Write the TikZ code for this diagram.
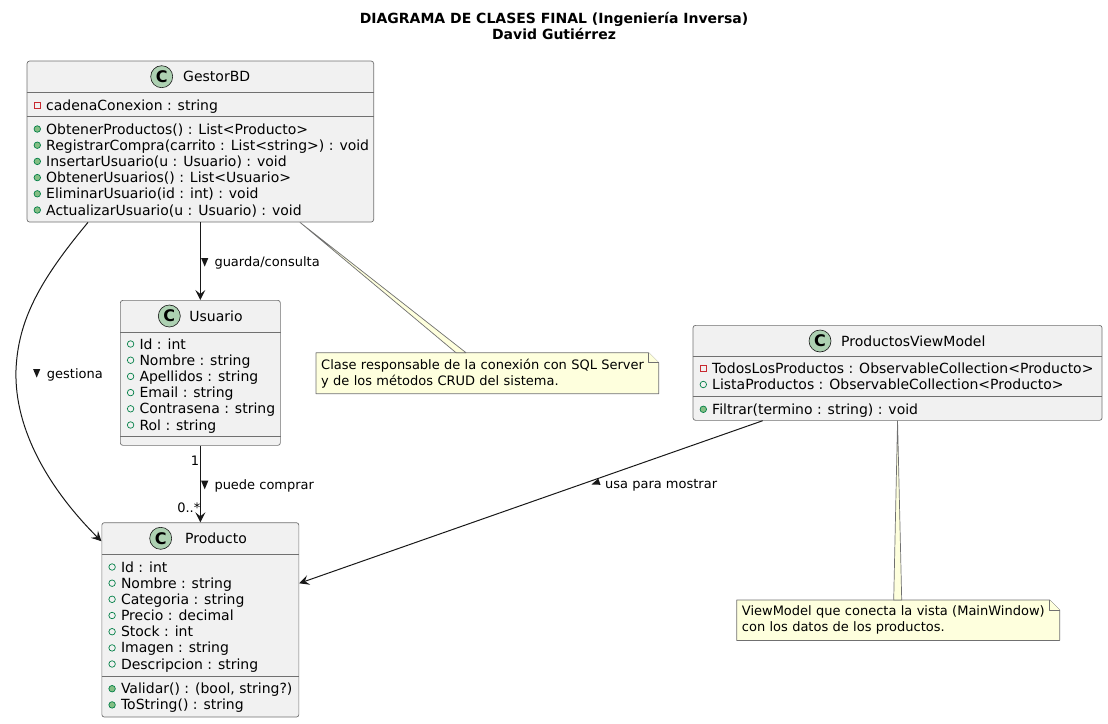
\documentclass[tikz,border=0pt]{standalone}
\usepackage{fontspec}
\setmainfont{DejaVu Sans}
\usetikzlibrary{arrows.meta,backgrounds}
\definecolor{classfill}{HTML}{F1F1F1}
\definecolor{lineblk}{HTML}{181818}
\definecolor{boxline}{HTML}{707070}
\definecolor{cfill}{HTML}{ADD1B2}
\definecolor{notefill}{HTML}{FEFFDD}
\definecolor{privred}{HTML}{C82930}
\definecolor{pubgreen}{HTML}{038048}
\definecolor{pubfill}{HTML}{84BE84}
\newcommand{\umlrow}[5]{%
  \node[#4] (#1i) at (#2+10.6,#3) {};
  \node[rowtext] (#1) at (#2+19.3,#3+5) {#5};}
\newcommand{\downtri}[3]{%
  \fill[lineblk] (#2-3.6,#3-4.3) -- (#2+3.6,#3-4.3) -- (#2,#3+4.3) -- cycle;}
\begin{document}
\begin{tikzpicture}[x=1pt,y=-1pt,
  classbox/.style={draw=boxline, fill=classfill, line width=0.7pt, rounded corners=2.5pt, anchor=north west, inner sep=0},
  sepline/.style={draw=boxline, line width=0.7pt},
  cicon/.style={circle, draw=lineblk, fill=cfill, line width=0.6pt, minimum size=22pt, inner sep=0, font=\bfseries\fontsize{16}{16}\selectfont},
  ctitle/.style={anchor=base, inner sep=0, font=\fontsize{14}{16}\selectfont},
  rowtext/.style={anchor=base west, inner sep=0, font=\fontsize{14}{16}\selectfont},
  privf/.style={rectangle, draw=privred, line width=0.7pt, minimum size=6pt, inner sep=0},
  pubf/.style={circle, draw=pubgreen, line width=0.7pt, minimum size=6.5pt, inner sep=0},
  pubm/.style={circle, draw=pubgreen, fill=pubfill, line width=0.7pt, minimum size=6.5pt, inner sep=0},
  arr/.style={draw=lineblk, line width=1pt, -{Stealth[length=10pt,width=10pt,inset=4pt]}},
  lbl/.style={anchor=base west, inner sep=0, font=\fontsize{13}{15}\selectfont},
  notetext/.style={anchor=north west, align=left, inner xsep=5pt, inner ysep=0, font=\fontsize{13}{16}\selectfont},
  notebox/.style={draw=boxline, fill=notefill, line width=0.7pt, line join=round},
  titletext/.style={align=center, inner sep=0, font=\bfseries\fontsize{14}{15.7}\selectfont}]
\useasboundingbox (0,0) rectangle (1108,723);

% Title
\node[titletext] (title) at (554,26.2) {DIAGRAMA DE CLASES FINAL (Ingeniería Inversa)\\David Gutiérrez};

% GestorBD
\node[classbox, minimum width=346.6pt, minimum height=161pt] (gestor) at (26.7,60.7) {};
\node[cicon] (gestorC) at (161.7,76.7) {C};
\node[ctitle] (gestorT) at (216.7,81.7) {GestorBD};
\draw[sepline] ([yshift=-32pt]gestor.north west) -- ([yshift=-32pt]gestor.north east);
\draw[sepline] ([yshift=-56pt]gestor.north west) -- ([yshift=-56pt]gestor.north east);
\umlrow{g1}{26.7}{105.7}{privf}{cadenaConexion : string}
\umlrow{g2}{26.7}{129}{pubm}{ObtenerProductos() : List<Producto>}
\umlrow{g3}{26.7}{145.2}{pubm}{RegistrarCompra(carrito : List<string>) : void}
\umlrow{g4}{26.7}{161.4}{pubm}{InsertarUsuario(u : Usuario) : void}
\umlrow{g5}{26.7}{177.6}{pubm}{ObtenerUsuarios() : List<Usuario>}
\umlrow{g6}{26.7}{193.8}{pubm}{EliminarUsuario(id : int) : void}
\umlrow{g7}{26.7}{210}{pubm}{ActualizarUsuario(u : Usuario) : void}

% Usuario
\node[classbox, minimum width=160pt, minimum height=145pt] (usuario) at (120,300) {};
\node[cicon] (usuarioC) at (169.3,316) {C};
\node[ctitle] (usuarioT) at (216,321) {Usuario};
\draw[sepline] ([yshift=-32pt]usuario.north west) -- ([yshift=-32pt]usuario.north east);
\draw[sepline] ([yshift=-136.7pt]usuario.north west) -- ([yshift=-136.7pt]usuario.north east);
\umlrow{u1}{120}{344}{pubf}{Id : int}
\umlrow{u2}{120}{360.2}{pubf}{Nombre : string}
\umlrow{u3}{120}{376.4}{pubf}{Apellidos : string}
\umlrow{u4}{120}{392.6}{pubf}{Email : string}
\umlrow{u5}{120}{408.8}{pubf}{Contrasena : string}
\umlrow{u6}{120}{425}{pubf}{Rol : string}

% Producto
\node[classbox, minimum width=197pt, minimum height=194.4pt] (producto) at (101.5,522.3) {};
\node[cicon] (productoC) at (160.7,538.3) {C};
\node[ctitle] (productoT) at (216,543.3) {Producto};
\draw[sepline] ([yshift=-32pt]producto.north west) -- ([yshift=-32pt]producto.north east);
\draw[sepline] ([yshift=-154.4pt]producto.north west) -- ([yshift=-154.4pt]producto.north east);
\umlrow{p1}{101.5}{567}{pubf}{Id : int}
\umlrow{p2}{101.5}{583.2}{pubf}{Nombre : string}
\umlrow{p3}{101.5}{599.3}{pubf}{Categoria : string}
\umlrow{p4}{101.5}{615.5}{pubf}{Precio : decimal}
\umlrow{p5}{101.5}{631.7}{pubf}{Stock : int}
\umlrow{p6}{101.5}{647.9}{pubf}{Imagen : string}
\umlrow{p7}{101.5}{664}{pubf}{Descripcion : string}
\umlrow{p8}{101.5}{688.7}{pubm}{Validar() : (bool, string?)}
\umlrow{p9}{101.5}{704.9}{pubm}{ToString() : string}

% ProductosViewModel
\node[classbox, minimum width=409pt, minimum height=95pt] (pvm) at (692.7,325) {};
\node[cicon] (pvmC) at (820,341) {C};
\node[ctitle] (pvmT) at (913.3,346) {ProductosViewModel};
\draw[sepline] ([yshift=-31.7pt]pvm.north west) -- ([yshift=-31.7pt]pvm.north east);
\draw[sepline] ([yshift=-71.7pt]pvm.north west) -- ([yshift=-71.7pt]pvm.north east);
\umlrow{v1}{692.7}{368.3}{privf}{TodosLosProductos : ObservableCollection<Producto>}
\umlrow{v2}{692.7}{384.5}{pubf}{ListaProductos : ObservableCollection<Producto>}
\umlrow{v3}{692.7}{409.3}{pubm}{Filtrar(termino : string) : void}

% Notes
\node[notetext, text width=332.3pt, minimum height=40.6pt] (note1) at (316,352.7) {Clase responsable de la conexión con SQL Server\\y de los métodos CRUD del sistema.};
\node[notetext, text width=312.6pt, minimum height=40pt] (note2) at (736.7,600) {ViewModel que conecta la vista (MainWindow)\\con los datos de los productos.};
\begin{scope}[on background layer]
  \draw[notebox] (note1.north west) -- ([xshift=-10pt]note1.north east) -- ([yshift=-10pt]note1.north east) -- (note1.south east) -- (note1.south west) -- cycle;
  \draw[notebox] ([xshift=-10pt]note1.north east) -- ([xshift=-10pt,yshift=-10pt]note1.north east) -- ([yshift=-10pt]note1.north east);
  \draw[notebox] ([xshift=273.3pt]gestor.south west) -- ([xshift=140pt]note1.north west) -- ([xshift=150pt]note1.north west) -- cycle;
  \draw[notebox] (note2.north west) -- ([xshift=-10pt]note2.north east) -- ([yshift=-10pt]note2.north east) -- (note2.south east) -- (note2.south west) -- cycle;
  \draw[notebox] ([xshift=-10pt]note2.north east) -- ([xshift=-10pt,yshift=-10pt]note2.north east) -- ([yshift=-10pt]note2.north east);
  \draw[notebox] (pvm.south) -- ([xshift=-4.5pt]note2.north) -- ([xshift=3.5pt]note2.north) -- cycle;
\end{scope}

% Connectors
\draw[arr] (gestor.south) -- (usuario.north);
\draw[arr] (usuario.south) -- (producto.north);
\draw[arr] ([xshift=61.3pt]gestor.south west) .. controls (40,280) and (18,320) .. (16,370) .. controls (14,430) and (50,490) .. ([yshift=-19pt]producto.north west);
\draw[arr] ([xshift=70pt]pvm.south west) -- ([yshift=-61pt]producto.north east);

% Labels
\downtri{t1}{204.7}{262.3}
\node[lbl] (l1) at (214.3,266.9) {guarda/consulta};
\downtri{t2}{204.7}{485}
\node[lbl] (l2) at (214.3,489.4) {puede comprar};
\downtri{t3}{36.7}{373.3}
\node[lbl] (l3) at (46.7,378) {gestiona};
\fill[lineblk] (591.5,484.5) -- (598.3,478.5) -- (600.5,484.8) -- cycle;
\node[lbl] (l4) at (605,488.7) {usa para mostrar};
\node[lbl, anchor=base] (m1) at (195,465.7) {1};
\node[lbl, anchor=base east] (m2) at (200.5,512) {0..*};
\end{tikzpicture}
\end{document}
